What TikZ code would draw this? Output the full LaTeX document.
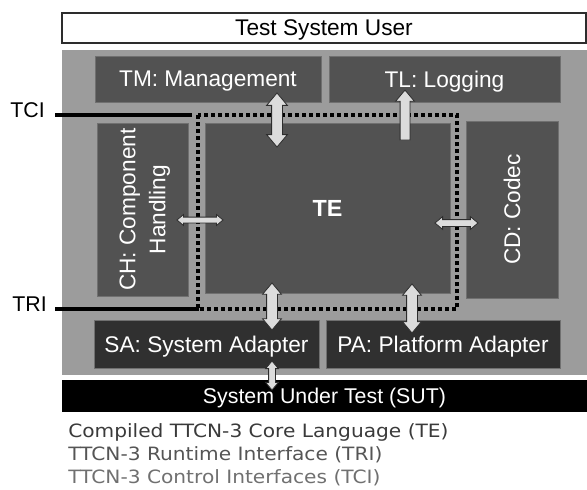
\documentclass[tikz,border=0pt]{standalone}
\usepackage{fontspec}
\setmainfont{Liberation Sans}
\newfontfamily\notefont[FakeStretch=1.1]{DejaVu Sans}
\usetikzlibrary{shapes.arrows}

\definecolor{bgGray}{RGB}{156,156,156}
\definecolor{boxGray}{RGB}{82,82,82}
\definecolor{boxLine}{RGB}{112,112,112}
\definecolor{adGray}{RGB}{48,48,48}
\definecolor{arrGray}{RGB}{220,220,220}
\definecolor{arrLine}{RGB}{45,45,45}

\tikzset{
  module/.style={draw=boxLine, fill=boxGray, line width=0.75, text=white, inner sep=0pt, text depth=0pt, font=\fontsize{17}{22.5}\selectfont},
  adapter/.style={module, fill=adGray},
  dblarrow/.style={double arrow, draw=arrLine, fill=arrGray, line width=0.6, inner xsep=0pt, double arrow tip angle=80},
  thickarrow/.style={dblarrow, inner ysep=3.75pt, double arrow head extend=3.75pt},
  thinarrow/.style={dblarrow, inner ysep=2.25pt, double arrow head extend=2.25pt},
  iflabel/.style={inner sep=0pt, font=\fontsize{16}{19}\selectfont},
  ifline/.style={line width=3pt},
  ifdots/.style={line width=3pt, dash pattern=on 3pt off 2.25pt}
}

\begin{document}
\begin{tikzpicture}[x=0.75pt,y=0.75pt,yscale=-1,xscale=1]
\useasboundingbox (0,0) rectangle (587,490);

% test system
\node [draw=arrLine, fill=white, line width=0.9, inner sep=0pt, text depth=0pt, minimum width=393pt, minimum height=22.5pt, font=\fontsize{17}{20}\selectfont] (user) at (324,28) {Test System User};
\fill [bgGray] (62,50) rectangle (587,375);

\node [module, minimum width=169.5pt, minimum height=34.5pt] (tm) at (208,79) {TM: Management};
\node [module, minimum width=173.25pt, minimum height=34.5pt] (tl) at (444.5,79) {TL: Logging};
\node [module, rotate=90, align=center, minimum width=129.75pt, minimum height=68.25pt] (ch) at (142.5,209.5) {CH: Component\\Handling};
\node [module, minimum width=183.75pt, minimum height=127.5pt, font=\fontsize{17.5}{20}\bfseries] (te) at (327.5,208) {TE};
\node [module, rotate=90, minimum width=132.75pt, minimum height=69pt] (cd) at (512,209.5) {CD: Codec};
\node [adapter, minimum width=168.75pt, minimum height=36pt] (sa) at (206.5,344) {SA: System Adapter};
\node [adapter, minimum width=175.5pt, minimum height=36pt] (pa) at (443,344) {PA: Platform Adapter};
\node [fill=black, text=white, inner sep=0pt, text depth=0pt, minimum width=393.75pt, minimum height=24pt, font=\fontsize{16}{19}\selectfont] (sut) at (324.5,396) {System Under Test (SUT)};

% interfaces
\draw [ifdots] (198,115) rectangle (457,309);
\node [iflabel, anchor=east] (tci) at (45,110) {TCI};
\node [iflabel, anchor=east] (tri) at (47,304) {TRI};
\coordinate (tcijoin) at (192,115);
\coordinate (trijoin) at (199,309);
\draw [ifline] (tci.east |- tcijoin) ++(10,0) -- (tcijoin);
\draw [ifline] (tri.east |- trijoin) ++(8,0) -- (trijoin);

% arrows
\node [thickarrow, rotate=90, minimum height=40.5pt] (tmte) at (277,120) {};
\node [single arrow, draw=arrLine, fill=arrGray, line width=0.6, inner xsep=0pt, inner ysep=3.375pt, single arrow head extend=3.375pt, single arrow tip angle=80, rotate=90, minimum height=37.5pt] (tetl) at (405,118) {};
\node [thinarrow, inner ysep=1.875pt, double arrow head extend=1.875pt, minimum height=34.5pt] (chte) at (200,220) {};
\node [thinarrow, minimum height=32.25pt] (tecd) at (456.5,223) {};
\node [thickarrow, double arrow head extend=3pt, rotate=90, minimum height=35.25pt] (tesa) at (272,306.5) {};
\node [thickarrow, double arrow head extend=3pt, rotate=90, minimum height=36.75pt] (tepa) at (412,308.5) {};
\node [thinarrow, rotate=90, minimum height=21.75pt] (sasut) at (272,375.5) {};

% legend
\node [anchor=base west, inner sep=0pt, font=\notefont\fontsize{13.75}{16}\selectfont, text={rgb,255:red,58;green,58;blue,58}] (note1) at (68,437) {Compiled TTCN-3 Core Language (TE)};
\node [anchor=base west, inner sep=0pt, font=\notefont\fontsize{13.75}{16}\selectfont, text={rgb,255:red,85;green,85;blue,85}] (note2) at (68,460) {TTCN-3 Runtime Interface (TRI)};
\node [anchor=base west, inner sep=0pt, font=\notefont\fontsize{13.75}{16}\selectfont, text={rgb,255:red,112;green,112;blue,112}] (note3) at (68,483) {TTCN-3 Control Interfaces (TCI)};
\end{tikzpicture}
\end{document}
